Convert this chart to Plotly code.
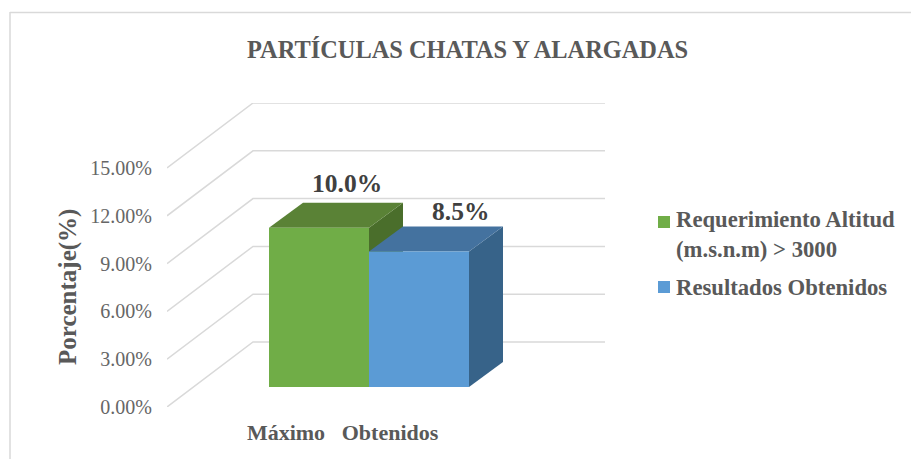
"""3D-look clustered column chart drawn with an oblique projection on plain axes."""

import plotly.graph_objects as go

TITLE = "PARTÍCULAS CHATAS Y ALARGADAS"
Y_TITLE = "Porcentaje(%)"
SERIES = ["Requerimiento Altitud<br>(m.s.n.m) > 3000", "Resultados Obtenidos"]
CATEGORIES = ["Máximo", "Obtenidos"]
VALUES = [10.0, 8.5]
VALUE_LABELS = ["10.0%", "8.5%"]
Y_TICKS = [0, 3, 6, 9, 12, 15]

FRONT = ["#70AD47", "#5B9BD5"]
TOP = ["#5A8236", "#44729F"]
SIDE = ["#4A6E2B", "#376389"]
GRID = "#D9D9D9"
TEXT = "#595959"
SERIF = "Liberation Serif"

W, H = 911, 459
# plot area in page pixels: x axis 100 px per bar, y axis 47.8 px per 3 %
L, R, T, B = 167, 605, 103, 407
PX_Y = 47.8 / 3
PX_X = 100.0


def xpx(px):
    return (px - 269) / PX_X


def ypx(px):
    return px / PX_Y


def xpaper(px):
    return (px - L) / (R - L)


def ypaper(px):
    return (B - px) / (B - T)


# oblique offsets, in axis units
WALL_DX, WALL_DY = xpx(253) - xpx(167), ypx(65)
BAR_DX, BAR_DY = xpx(303) - xpx(269), ypx(25)
BAR_BASE = ypx(20)

fig = go.Figure()

for tick in Y_TICKS:
    x0 = xpx(L)
    fig.add_trace(go.Scatter(
        x=[x0, x0 + WALL_DX, xpx(R)],
        y=[tick, tick + WALL_DY, tick + WALL_DY],
        mode="lines",
        line=dict(color=GRID, width=1.5),
        cliponaxis=False,
        hoverinfo="skip",
        showlegend=False,
    ))


def add_face(xs, ys, color):
    fig.add_trace(go.Scatter(
        x=xs, y=ys, mode="lines", fill="toself", fillcolor=color,
        line=dict(width=0), hoverinfo="skip", showlegend=False,
    ))


# page positions of the value labels, swatches and legend text
LABEL_POS = [(347, 183.5), (460, 211.5)]
SWATCH_TOP = [216, 281]
LEGEND_Y = [234.5, 287]

for i, value in enumerate(VALUES):
    top = BAR_BASE + value
    x0, x1 = i, i + 1
    add_face([x1, x1 + BAR_DX, x1 + BAR_DX, x1, x1],
             [BAR_BASE, BAR_BASE + BAR_DY, top + BAR_DY, top, BAR_BASE], SIDE[i])
    add_face([x0, x0 + BAR_DX, x1 + BAR_DX, x1, x0],
             [top, top + BAR_DY, top + BAR_DY, top, top], TOP[i])
    add_face([x0, x1, x1, x0, x0],
             [BAR_BASE, BAR_BASE, top, top, BAR_BASE], FRONT[i])
    fig.add_annotation(
        xref="paper", yref="paper",
        x=xpaper(LABEL_POS[i][0]), y=ypaper(LABEL_POS[i][1]),
        text=f"<b>{VALUE_LABELS[i]}</b>", showarrow=False,
        xanchor="center", yanchor="middle",
        font=dict(family=SERIF, size=25.5, color="#404040"),
    )
    fig.add_shape(
        type="rect", xref="paper", yref="paper",
        x0=xpaper(658), x1=xpaper(670),
        y0=ypaper(SWATCH_TOP[i] + 12), y1=ypaper(SWATCH_TOP[i]),
        fillcolor=FRONT[i], line=dict(width=0),
    )
    fig.add_annotation(
        xref="paper", yref="paper",
        x=xpaper(674), y=ypaper(LEGEND_Y[i]),
        text=f"<b>{SERIES[i]}</b>", showarrow=False,
        xanchor="left", yanchor="middle", align="left",
        font=dict(family=SERIF, size=22.7, color=TEXT),
    )

# chart frame: only its top and left edges fall inside the page
fig.add_shape(type="line", xref="paper", yref="paper",
              x0=xpaper(10), x1=xpaper(W), y0=ypaper(12.5), y1=ypaper(12.5),
              line=dict(color=GRID, width=1.5))
fig.add_shape(type="line", xref="paper", yref="paper",
              x0=xpaper(10), x1=xpaper(10), y0=ypaper(12), y1=ypaper(H),
              line=dict(color=GRID, width=1.5))

fig.add_annotation(
    xref="paper", yref="paper",
    x=xpaper(467), y=ypaper(50),
    text=f"<b>{TITLE}</b>", showarrow=False,
    xanchor="center", yanchor="middle",
    font=dict(family=SERIF, size=24.4, color=TEXT),
)
fig.add_annotation(
    xref="paper", yref="paper",
    x=xpaper(68), y=ypaper(287), text=f"<b>{Y_TITLE}</b>",
    showarrow=False, textangle=-90, xanchor="center", yanchor="middle",
    font=dict(family=SERIF, size=25, color=TEXT),
)

fig.update_layout(
    width=W, height=H,
    autosize=False,
    margin=dict(l=L, r=W - R, t=T, b=H - B, pad=0),
    paper_bgcolor="white",
    plot_bgcolor="rgba(0,0,0,0)",
    showlegend=False,
)
fig.update_xaxes(
    range=[xpx(L), xpx(R)],
    tickvals=[xpx(286), xpx(390)],
    ticktext=[f"<b>{c}</b>" for c in CATEGORIES],
    tickfont=dict(family=SERIF, size=22, color=TEXT),
    ticks="outside", ticklen=6, tickcolor="rgba(0,0,0,0)",
    showgrid=False, zeroline=False, showline=False, automargin=False,
)
fig.update_yaxes(
    range=[0, (B - T) / PX_Y],
    tickvals=Y_TICKS,
    ticktext=[f"{t:.2f}%" for t in Y_TICKS],
    tickfont=dict(family=SERIF, size=20, color="#666666"),
    ticks="outside", ticklen=10, tickcolor="rgba(0,0,0,0)",
    showgrid=False, zeroline=False, showline=False, automargin=False,
)

fig.write_html(
    "out.html",
    config={"displayModeBar": False},
    post_script="document.body.style.margin = '0';",
)
